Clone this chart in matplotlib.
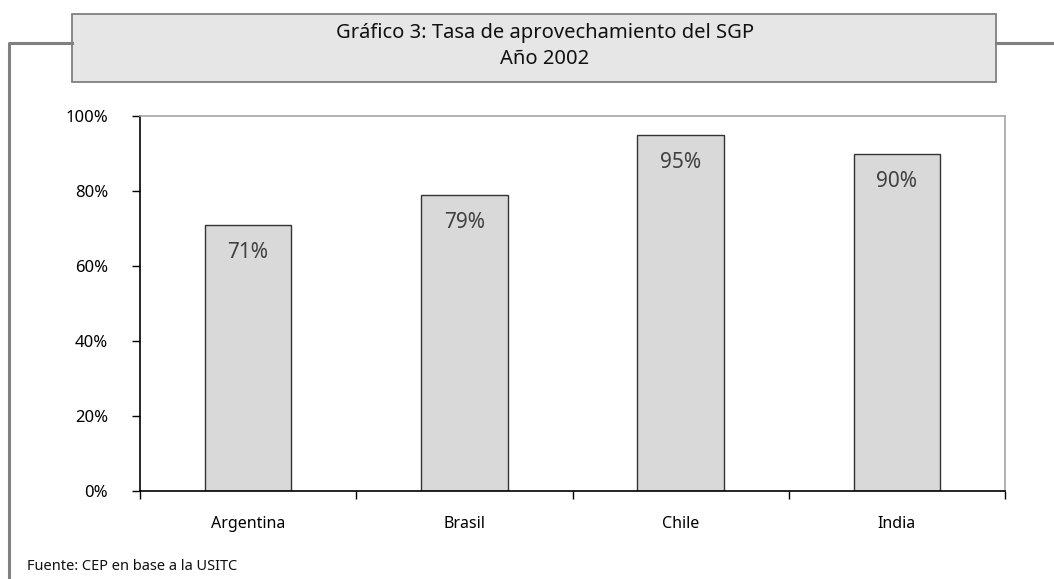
import matplotlib
matplotlib.use("Agg")
import matplotlib.pyplot as plt
from matplotlib.patches import Rectangle
from matplotlib.lines import Line2D
from matplotlib.ticker import PercentFormatter, FixedLocator
import numpy as np

# ---- data ----
categories = ["Argentina", "Brasil", "Chile", "India"]
values = [71, 79, 95, 90]
bar_labels = ["71%", "79%", "95%", "90%"]
yticks = [0, 20, 40, 60, 80, 100]
title_line1 = "Gráfico 3: Tasa de aprovechamiento del SGP"
title_line2 = "Año 2002"
source = "Fuente: CEP en base a la USITC"

W, H = 1054, 579
DPI = 100
plt.rcParams['font.family'] = ['Noto Sans', 'DejaVu Sans']

fig = plt.figure(figsize=(W / DPI, H / DPI), dpi=DPI)

def fx(px):
    return px / W

def fy(py):
    return 1 - py / H

# frame lines
frame_col = "#808080"
fig.add_artist(Line2D([fx(9), fx(9), fx(72)], [fy(579), fy(43), fy(43)],
                      transform=fig.transFigure, color=frame_col, lw=2.2))
fig.add_artist(Line2D([fx(996), fx(1054)], [fy(43), fy(43)],
                      transform=fig.transFigure, color=frame_col, lw=2.2))
# title box
fig.add_artist(Rectangle((fx(72), fy(82)), fx(996) - fx(72), fy(14) - fy(82),
                         transform=fig.transFigure, facecolor="#e6e6e6",
                         edgecolor=frame_col, lw=1.3))
fig.text(fx(545), fy(33), title_line1, ha="center", va="center", fontsize=14.5, color="#111111")
fig.text(fx(545), fy(59), title_line2, ha="center", va="center", fontsize=14.5, color="#111111")

# axes
ax = fig.add_axes([fx(140), fy(491), fx(1005) - fx(140), fy(116) - fy(491)])
x = np.arange(len(categories))
ax.bar(x, values, width=0.4, color="#d9d9d9", edgecolor="#333333", linewidth=1.0, zorder=2)
ax.set_xlim(-0.5, len(categories) - 0.5)
ax.set_ylim(0, 100)

ax.yaxis.set_major_locator(FixedLocator(yticks))
ax.yaxis.set_major_formatter(PercentFormatter(decimals=0))
ax.tick_params(axis="y", direction="out", length=6, width=1, pad=17, labelsize=12, colors="black")

# category labels at centres, ticks at boundaries
ax.set_xticks(np.arange(len(categories) + 1) - 0.5)
ax.set_xticklabels([])
ax.set_xticks(x, minor=True)
ax.set_xticklabels(categories, minor=True)
ax.tick_params(axis="x", which="major", direction="out", length=6, width=1)
ax.tick_params(axis="x", which="minor", length=0, pad=18, labelsize=11.5)

for side in ("left", "bottom"):
    ax.spines[side].set_color("black")
    ax.spines[side].set_linewidth(1.2)
for side in ("top", "right"):
    ax.spines[side].set_color("#a6a6a6")
    ax.spines[side].set_linewidth(1.2)

for xi, v, lab in zip(x, values, bar_labels):
    ax.annotate(lab, (xi, v), xytext=(0, -20), textcoords="offset points",
                ha="center", va="center", fontsize=15, color="#404040", zorder=3)

fig.text(fx(27), fy(567), source, ha="left", va="center", fontsize=10.5,
         color="#111111", family=['Liberation Sans Narrow', 'Noto Sans', 'DejaVu Sans'])

fig.savefig("out.png", dpi=DPI)
